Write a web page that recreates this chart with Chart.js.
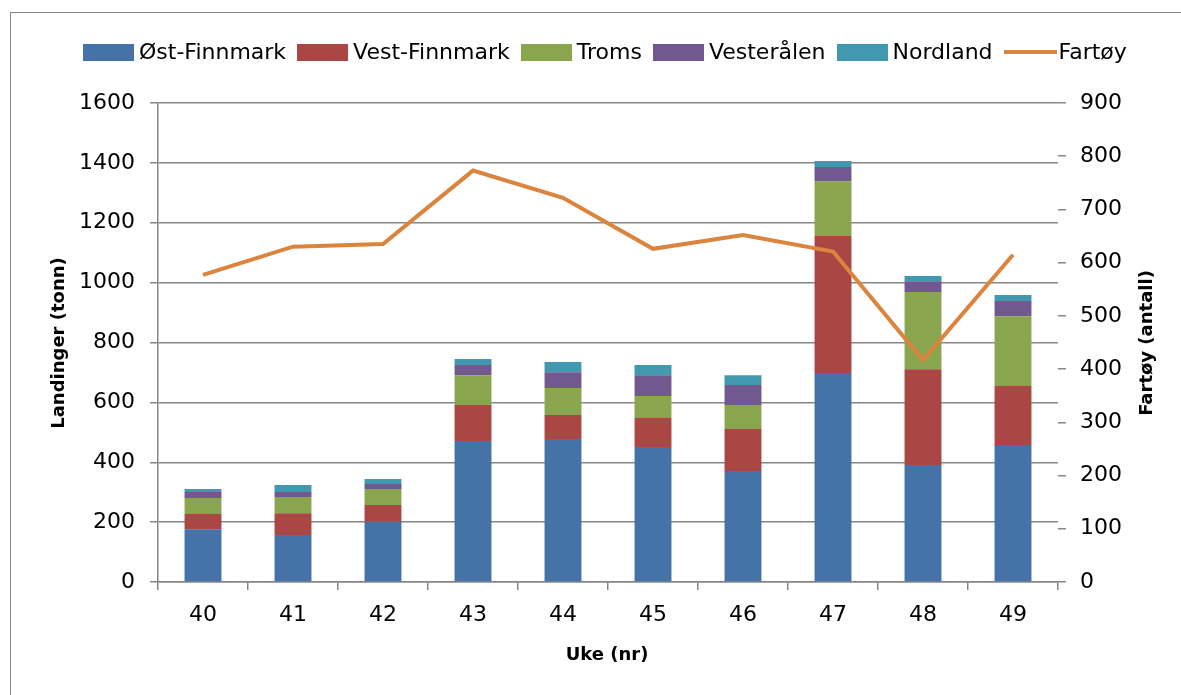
<!DOCTYPE html>
<html>
<head>
<meta charset="utf-8">
<script src="https://cdn.jsdelivr.net/npm/chart.js@4.4.0/dist/chart.umd.min.js"></script>
<style>
  body { margin: 0; overflow: hidden; background: #fff; font-family: "DejaVu Sans", sans-serif; }
  #wrap { position: relative; width: 1181px; height: 695px; }
  #frame { position: absolute; left: 10px; top: 12px; width: 1300px; height: 800px; border: 1px solid #868686; }
  #legend { position: absolute; left: 83px; top: 41px; display: flex; align-items: center; font-size: 22px; line-height: 22px; color: #000; }
  .item { display: flex; align-items: center; margin-right: 11px; }
  .box { width: 51px; height: 17px; margin-right: 5px; }
  .line { width: 53px; height: 4px; margin-right: 2px; }
  canvas { position: absolute; left: 0; top: 0; }
</style>
</head>
<body>
<div id="wrap">
  <div id="frame"></div>
  <canvas id="chart" width="1181" height="695"></canvas>
  <div id="legend"></div>
</div>
<script>
// Uke (nr)
var weeks = ["40", "41", "42", "43", "44", "45", "46", "47", "48", "49"];

// Landinger (tonn) per region
var ostFinnmark = [176, 157, 201, 471, 478, 451, 371, 698, 391, 458];
var vestFinnmark = [51, 73, 56, 120, 80, 97, 140, 458, 320, 197];
var troms = [54, 54, 54, 100, 90, 73, 80, 183, 258, 233];
var vesteralen = [20, 17, 16, 34, 53, 70, 67, 47, 36, 51];
var nordland = [10, 23, 17, 20, 34, 34, 33, 20, 17, 20];

// Fartøy (antall)
var fartoy = [577, 630, 635, 773, 722, 626, 652, 621, 417, 615];

var names = ["Øst-Finnmark", "Vest-Finnmark", "Troms", "Vesterålen", "Nordland", "Fartøy"];
var colors = ["#4572A7", "#AA4643", "#89A54E", "#71588F", "#4198AF", "#DB843D"];

var gridColor = "#868686";

function barSet(i, values) {
	return {
		type: "bar",
		label: names[i],
		data: values,
		backgroundColor: colors[i],
		yAxisID: "y",
		stack: "land",
		barPercentage: 0.41,
		categoryPercentage: 1,
		order: 1
	};
}

// plain numbers, no thousands separator
function plainTick(value) {
	return String(value);
}

/**
 * Draws the three axis titles (right one reads bottom to top like the left)
 */
var axisTitles = {
	id: "axisTitles",
	afterDraw: function(chart) {
		var ctx = chart.ctx;
		ctx.save();
		ctx.fillStyle = "#000";
		ctx.font = "bold 18px 'DejaVu Sans'";
		ctx.textAlign = "center";
		ctx.textBaseline = "middle";
		ctx.fillText("Uke (nr)", 607, 655);

		ctx.translate(59, 343);
		ctx.rotate(-Math.PI / 2);
		ctx.fillText("Landinger (tonn)", 0, 0);
		ctx.restore();

		ctx.save();
		ctx.fillStyle = "#000";
		ctx.font = "bold 18px 'DejaVu Sans'";
		ctx.textAlign = "center";
		ctx.textBaseline = "middle";
		ctx.translate(1147, 343);
		ctx.rotate(-Math.PI / 2);
		ctx.fillText("Fartøy (antall)", 0, 0);
		ctx.restore();
	}
};

function buildLegend() {
	var html = "";
	for (var i = 0; i < names.length; i++) {
		var mark = i < 5 ? "box" : "line";
		html += "<div class=\"item\"><span class=\"" + mark + "\" style=\"background:" + colors[i] + "\"></span><span>" + names[i] + "</span></div>";
	}
	document.getElementById("legend").innerHTML = html;
}

function loadChart() {
	var ctx = document.getElementById("chart").getContext("2d");
	var tickFont = { family: "DejaVu Sans", size: 22 };

	var data = {
		labels: weeks,
		datasets: [
			{
				type: "line",
				label: names[5],
				data: fartoy,
				borderColor: colors[5],
				backgroundColor: colors[5],
				borderWidth: 4,
				pointRadius: 0,
				tension: 0,
				yAxisID: "y1",
				order: 0
			},
			barSet(0, ostFinnmark),
			barSet(1, vestFinnmark),
			barSet(2, troms),
			barSet(3, vesteralen),
			barSet(4, nordland)
		]
	};

	new Chart(ctx, {
		type: "bar",
		data: data,
		plugins: [axisTitles],
		options: {
			responsive: false,
			animation: false,
			devicePixelRatio: 1,
			layout: { padding: { top: 103, left: 0, right: 0, bottom: 0 } },
			plugins: {
				legend: { display: false },
				tooltip: { enabled: false }
			},
			scales: {
				x: {
					stacked: true,
					offset: true,
					afterFit: function(s) { s.height = 113; },
					grid: { offset: true, drawOnChartArea: false, drawTicks: true, tickLength: 8, color: gridColor, lineWidth: 1.5 },
					border: { display: true, color: gridColor, width: 1.5 },
					ticks: { color: "#000", font: tickFont, padding: 12 }
				},
				y: {
					position: "left",
					stacked: true,
					min: 0,
					max: 1600,
					afterFit: function(s) { s.width = 158; },
					grid: { color: gridColor, lineWidth: 1.5, tickLength: 8 },
					border: { display: true, color: gridColor, width: 1.5 },
					ticks: { stepSize: 200, color: "#000", font: tickFont, padding: 15, callback: plainTick }
				},
				y1: {
					position: "right",
					stacked: false,
					min: 0,
					max: 900,
					afterFit: function(s) { s.width = 123; },
					grid: { drawOnChartArea: false, color: gridColor, lineWidth: 1.5, tickLength: 8 },
					border: { display: false },
					ticks: { stepSize: 100, color: "#000", font: tickFont, padding: 14, callback: plainTick }
				}
			}
		}
	});
}

buildLegend();
loadChart();
</script>
</body>
</html>
